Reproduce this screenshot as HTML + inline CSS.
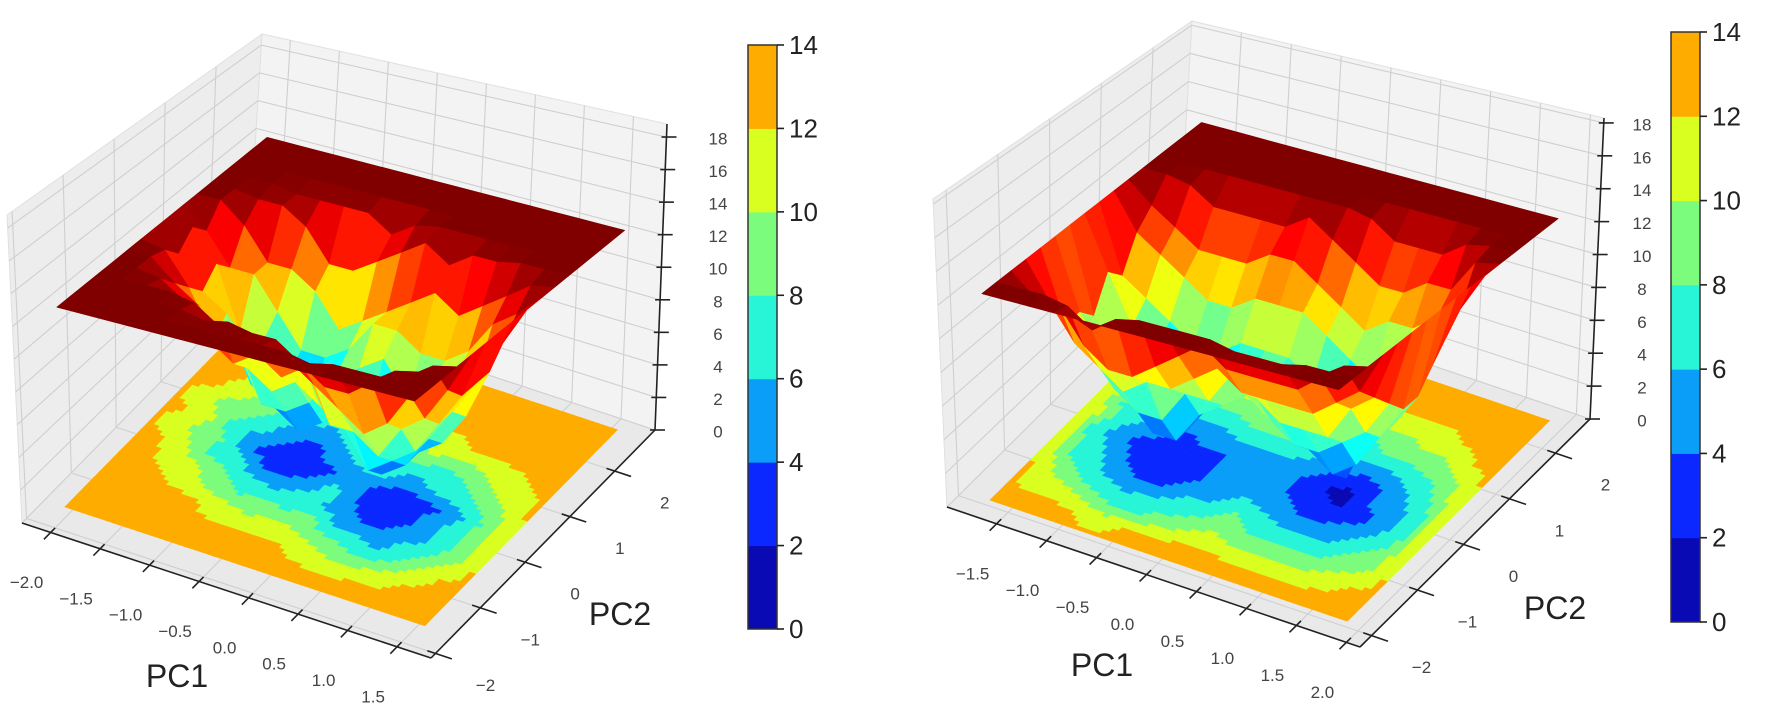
<!DOCTYPE html>
<html><head><meta charset="utf-8"><style>
html,body{margin:0;padding:0;background:#fff;}
svg{display:block;font-family:"Liberation Sans",sans-serif;}
</style></head><body>
<svg id="chart" width="1772" height="716" viewBox="0 0 1772 716" xmlns="http://www.w3.org/2000/svg"></svg>
<script>
// ---------- data ----------
const zTickValues = [0,2,4,6,8,10,12,14,16,18];
const colorbarLevels = [0,2,4,6,8,10,12,14];
const bandColors = ['#0a0ab4','#0a28ff','#0a9ef8','#28f5d8','#7cfc7c','#d8ff20','#ffac00'];
const leftPC1Labels = ['\u22122.0','\u22121.5','\u22121.0','\u22120.5','0.0','0.5','1.0','1.5'];
const rightPC1Labels = ['\u22121.5','\u22121.0','\u22120.5','0.0','0.5','1.0','1.5','2.0'];
const pc2Labels = ['\u22122','\u22121','0','1','2'];
const leftCap = 12.3;
const rightCap = 12.3;
const leftGrid = [
[13,13,13,13,13,12,11,12,11,13,13,13,13,13],
[13,13,13,12,11,10,9,10,9,11,12,13,13,13],
[13,13,13,11,10,7,8,6,9,9,12,12,13,13],
[13,13,12,9,8,7,4,6,7,9,11,12,13,13],
[13,12,11,8,7,4,3,4,5,8,9,12,13,13],
[13,13,10,9,6,4,2,3,5,6,9,12,13,13],
[13,12,11,8,7,5,3,5,6,7,10,11,13,13],
[13,12,10,9,6,7,5,6,8,8,11,12,13,13],
[13,11,9,6,5,4,4,7,8,9,12,13,13,13],
[12,10,8,6,3,2,3,5,7,10,11,13,13,13],
[13,10,7,5,4,3,3,6,7,9,12,13,13,13],
[13,11,8,7,5,5,4,7,8,10,12,13,13,13],
[13,12,10,8,7,7,6,8,10,11,13,13,13,13],
[13,13,12,10,9,9,9,10,11,12,13,13,13,13]
];
const rightGrid = [
[13,11,10,8,8,7,9,8,10,11,13,13,13,13],
[13,11,8,7,6,5,6,7,9,10,12,13,13,13],
[12,9,7,5,4,3,5,6,8,9,11,13,13,13],
[11,8,6,4,2,2,3,5,7,9,11,13,13,13],
[12,8,7,4,2,2,4,5,7,9,11,13,13,13],
[13,9,7,6,4,4,4,6,8,10,11,13,13,13],
[13,10,8,6,5,5,5,6,8,10,12,13,13,13],
[13,11,9,8,6,5,6,6,8,9,11,13,13,13],
[13,10,8,7,5,4,4,5,7,8,10,12,13,13],
[12,10,8,6,4,3,2,4,6,7,9,11,13,13],
[12,10,8,6,4,2,1,3,5,8,9,11,13,13],
[12,10,8,6,5,3,4,4,6,8,10,11,13,13],
[13,11,9,8,6,5,5,6,7,9,10,12,13,13],
[13,12,10,9,8,7,7,8,9,10,12,13,13,13]
];

// ---------- geometry (layout, not data) ----------
const panels = [
 {name:'left', grid:leftGrid, cap:leftCap, pc1:leftPC1Labels, pc1u0:0.07, pc2v0:0.02,
  L0:[22,523],F0:[431,658],R0:[655,430],B0:[246,295],Lt:[7,215],Ft:[412,307],Rt:[667,124],Bt:[262,34],
  zmax:18.8,u0:0.05,u1:0.93,v0:0.10,v1:0.96, zLabelX:718,
  pc1Title:[177,676], pc2Title:[620,614], cb:[748,45,29,584]},
 {name:'right', grid:rightGrid, cap:rightCap, pc1:rightPC1Labels, pc1u0:0.12, pc2v0:0.05,
  L0:[947,507],F0:[1360,647],R0:[1590,419],B0:[1177,279],Lt:[933,199],Ft:[1345,296],Rt:[1604,118],Bt:[1192,21],
  zmax:18.3,u0:0.065,u1:0.93,v0:0.07,v1:0.95, zLabelX:1642,
  pc1Title:[1102,665], pc2Title:[1555,608], cb:[1671,32,29,590]}
];

const NS='http://www.w3.org/2000/svg';
const svg=document.getElementById('chart');
function mk(tag,parent,attrs){const e=document.createElementNS(NS,tag);for(const k in attrs)e.setAttribute(k,attrs[k]);parent.appendChild(e);return e;}
function bil(a,b,c,d,u,v){return [a[0]*(1-u)*(1-v)+b[0]*u*(1-v)+c[0]*u*v+d[0]*(1-u)*v, a[1]*(1-u)*(1-v)+b[1]*u*(1-v)+c[1]*u*v+d[1]*(1-u)*v];}
function proj(p,u,v,z){const b=bil(p.L0,p.F0,p.R0,p.B0,u,v),t=bil(p.Lt,p.Ft,p.Rt,p.Bt,u,v),w=z/p.zmax;return [b[0]+(t[0]-b[0])*w,b[1]+(t[1]-b[1])*w];}
function pts(a){return a.map(q=>q[0].toFixed(1)+','+q[1].toFixed(1)).join(' ');}
function jet(t){t=Math.max(0,Math.min(1,t));const cl=x=>Math.round(255*Math.max(0,Math.min(1,x)));
 return 'rgb('+cl(1.5-Math.abs(4*t-3))+','+cl(1.5-Math.abs(4*t-2))+','+cl(1.5-Math.abs(4*t-1))+')';}
function band(z){let k=Math.floor(z/2);if(k<0)k=0;if(k>6)k=6;return bandColors[k];}

panels.forEach(p=>{
 const g=mk('g',svg,{});
 
 
 const N=16;
 const zAt=(i,j)=>(i===0||j===0||i===N-1||j===N-1)?p.cap:Math.min(p.grid[i-1][j-1],p.cap);
 const uAt=i=>p.u0+i*(p.u1-p.u0)/(N-1);
 const vAt=j=>p.v0+j*(p.v1-p.v0)/(N-1);
 const zt=p.zmax;
 // panes
 const paneDefs=[['left-pane','#ededed',[[0,0,0],[0,1,0],[0,1,zt],[0,0,zt]]],
                 ['back-pane','#f3f3f3',[[0,1,0],[1,1,0],[1,1,zt],[0,1,zt]]],
                 ['floor-pane','#e9e9e9',[[0,0,0],[1,0,0],[1,1,0],[0,1,0]]]];
 paneDefs.forEach(d=>{
  const pl=mk('polygon',g,{points:pts(d[2].map(q=>proj(p,q[0],q[1],q[2]))),fill:d[1],stroke:'#e0e0e0','stroke-width':1});
  
  
 });
 // grid lines
 const uT=p.pc1.map((s,k)=>p.pc1u0+0.121*k);
 const vT=pc2Labels.map((s,k)=>p.pc2v0+0.2*k);
 const gl=(a,b)=>{const l=mk('line',g,{x1:a[0],y1:a[1],x2:b[0],y2:b[1],stroke:'#cfcfcf','stroke-width':1.1});
  
  };
 uT.forEach(u=>{gl(proj(p,u,0,0),proj(p,u,1,0));gl(proj(p,u,1,0),proj(p,u,1,zt));});
 vT.forEach(v=>{gl(proj(p,0,v,0),proj(p,1,v,0));gl(proj(p,0,v,0),proj(p,0,v,zt));});
 zTickValues.forEach(z=>{gl(proj(p,0,0,z),proj(p,0,1,z));gl(proj(p,0,1,z),proj(p,1,1,z));});
 // floor contour
 const fg=mk('g',g,{});
 
 
 const S=4;
 for(let i=0;i<N-1;i++)for(let j=0;j<N-1;j++){
  const z00=zAt(i,j),z10=zAt(i+1,j),z11=zAt(i+1,j+1),z01=zAt(i,j+1);
  for(let a=0;a<S;a++)for(let b=0;b<S;b++){
   const fa=(a+0.5)/S,fb=(b+0.5)/S;
   const z=z00*(1-fa)*(1-fb)+z10*fa*(1-fb)+z11*fa*fb+z01*(1-fa)*fb;
   const ua=uAt(i)+(uAt(i+1)-uAt(i))*a/S,ub=uAt(i)+(uAt(i+1)-uAt(i))*(a+1)/S;
   const va=vAt(j)+(vAt(j+1)-vAt(j))*b/S,vb=vAt(j)+(vAt(j+1)-vAt(j))*(b+1)/S;
   const c=band(z);
   const pg=mk('polygon',fg,{points:pts([proj(p,ua,va,0),proj(p,ub,va,0),proj(p,ub,vb,0),proj(p,ua,vb,0)]),fill:c,stroke:c,'stroke-width':0.6});
   
   
  }
 }
 // surface
 const sg=mk('g',g,{});
 
 
 const quads=[];
 for(let i=0;i<N-1;i++)for(let j=0;j<N-1;j++){
  const zs=[zAt(i,j),zAt(i+1,j),zAt(i+1,j+1),zAt(i,j+1)];
  quads.push({i,j,zs,key:((vAt(j)+vAt(j+1))/2)-((uAt(i)+uAt(i+1))/2)});
 }
 quads.sort((a,b)=>b.key-a.key);
 quads.forEach(q=>{
  const {i,j,zs}=q;
  const avg=(zs[0]+zs[1]+zs[2]+zs[3])/4;
  const c=jet(avg/p.cap);
  const pg=mk('polygon',sg,{points:pts([proj(p,uAt(i),vAt(j),zs[0]),proj(p,uAt(i+1),vAt(j),zs[1]),proj(p,uAt(i+1),vAt(j+1),zs[2]),proj(p,uAt(i),vAt(j+1),zs[3])]),fill:c,stroke:c,'stroke-width':0.7,'stroke-linejoin':'round'});
  
  
 });
 // axes
 const ax=(a,b,name)=>{const l=mk('line',g,{x1:a[0],y1:a[1],x2:b[0],y2:b[1],stroke:'#222','stroke-width':1.6});
  
  };
 ax(proj(p,0,0,0),proj(p,1,0,0),p.name+'-pc1-axis');
 ax(proj(p,1,0,0),proj(p,1,1,0),p.name+'-pc2-axis');
 ax(proj(p,1,1,0),proj(p,1,1,zt),p.name+'-z-axis');
 const txt=(x,y,s,size,fill,name,anchor)=>{const t=mk('text',g,{x:x.toFixed(1),y:y.toFixed(1),'font-size':size,fill:fill,'text-anchor':anchor||'middle','dominant-baseline':'central'});
  t.textContent=s;
  
  };
 p.pc1.forEach((s,k)=>{const u=uT[k];ax(proj(p,u,-0.03,0),proj(p,u,0.02,0),'pc1-tick');
  const q=proj(p,u,0,0);txt(q[0]-24,q[1]+50,s,17,'#444','pc1-tick-label');});
 pc2Labels.forEach((s,k)=>{const v=vT[k];ax(proj(p,0.98,v,0),proj(p,1.04,v,0),'pc2-tick');
  const q=proj(p,1,v,0);txt(q[0]+50,q[1]+32,s,17,'#444','pc2-tick-label');});
 zTickValues.forEach(z=>{const q=proj(p,1,1,z);ax([q[0]-5,q[1]],[q[0]+10,q[1]],'z-tick');
  txt(p.zLabelX,q[1]+2,String(z),17,'#444','z-tick-label');});
 txt(p.pc1Title[0],p.pc1Title[1],'PC1',32,'#222','pc1-axis-title');
 txt(p.pc2Title[0],p.pc2Title[1],'PC2',32,'#222','pc2-axis-title');
 // colorbar
 const cb=p.cb, nb=colorbarLevels.length-1, h=cb[3]/nb;
 const cg=mk('g',g,{});
 
 
 for(let k=0;k<nb;k++){
  const r=mk('rect',cg,{x:cb[0],y:(cb[1]+cb[3]-(k+1)*h).toFixed(2),width:cb[2],height:(h+0.5).toFixed(2),fill:bandColors[k]});
  
  
 }
 const fr=mk('rect',cg,{x:cb[0],y:cb[1],width:cb[2],height:cb[3],fill:'none',stroke:'#333','stroke-width':1.5});
 
 
 colorbarLevels.forEach((lv,k)=>{const y=cb[1]+cb[3]-k*h;
  ax([cb[0]+cb[2],y],[cb[0]+cb[2]+7,y],'colorbar-tick');
  txt(cb[0]+cb[2]+12,y,String(lv),26,'#222','colorbar-tick-label','start');});
});
</script>
</body></html>
